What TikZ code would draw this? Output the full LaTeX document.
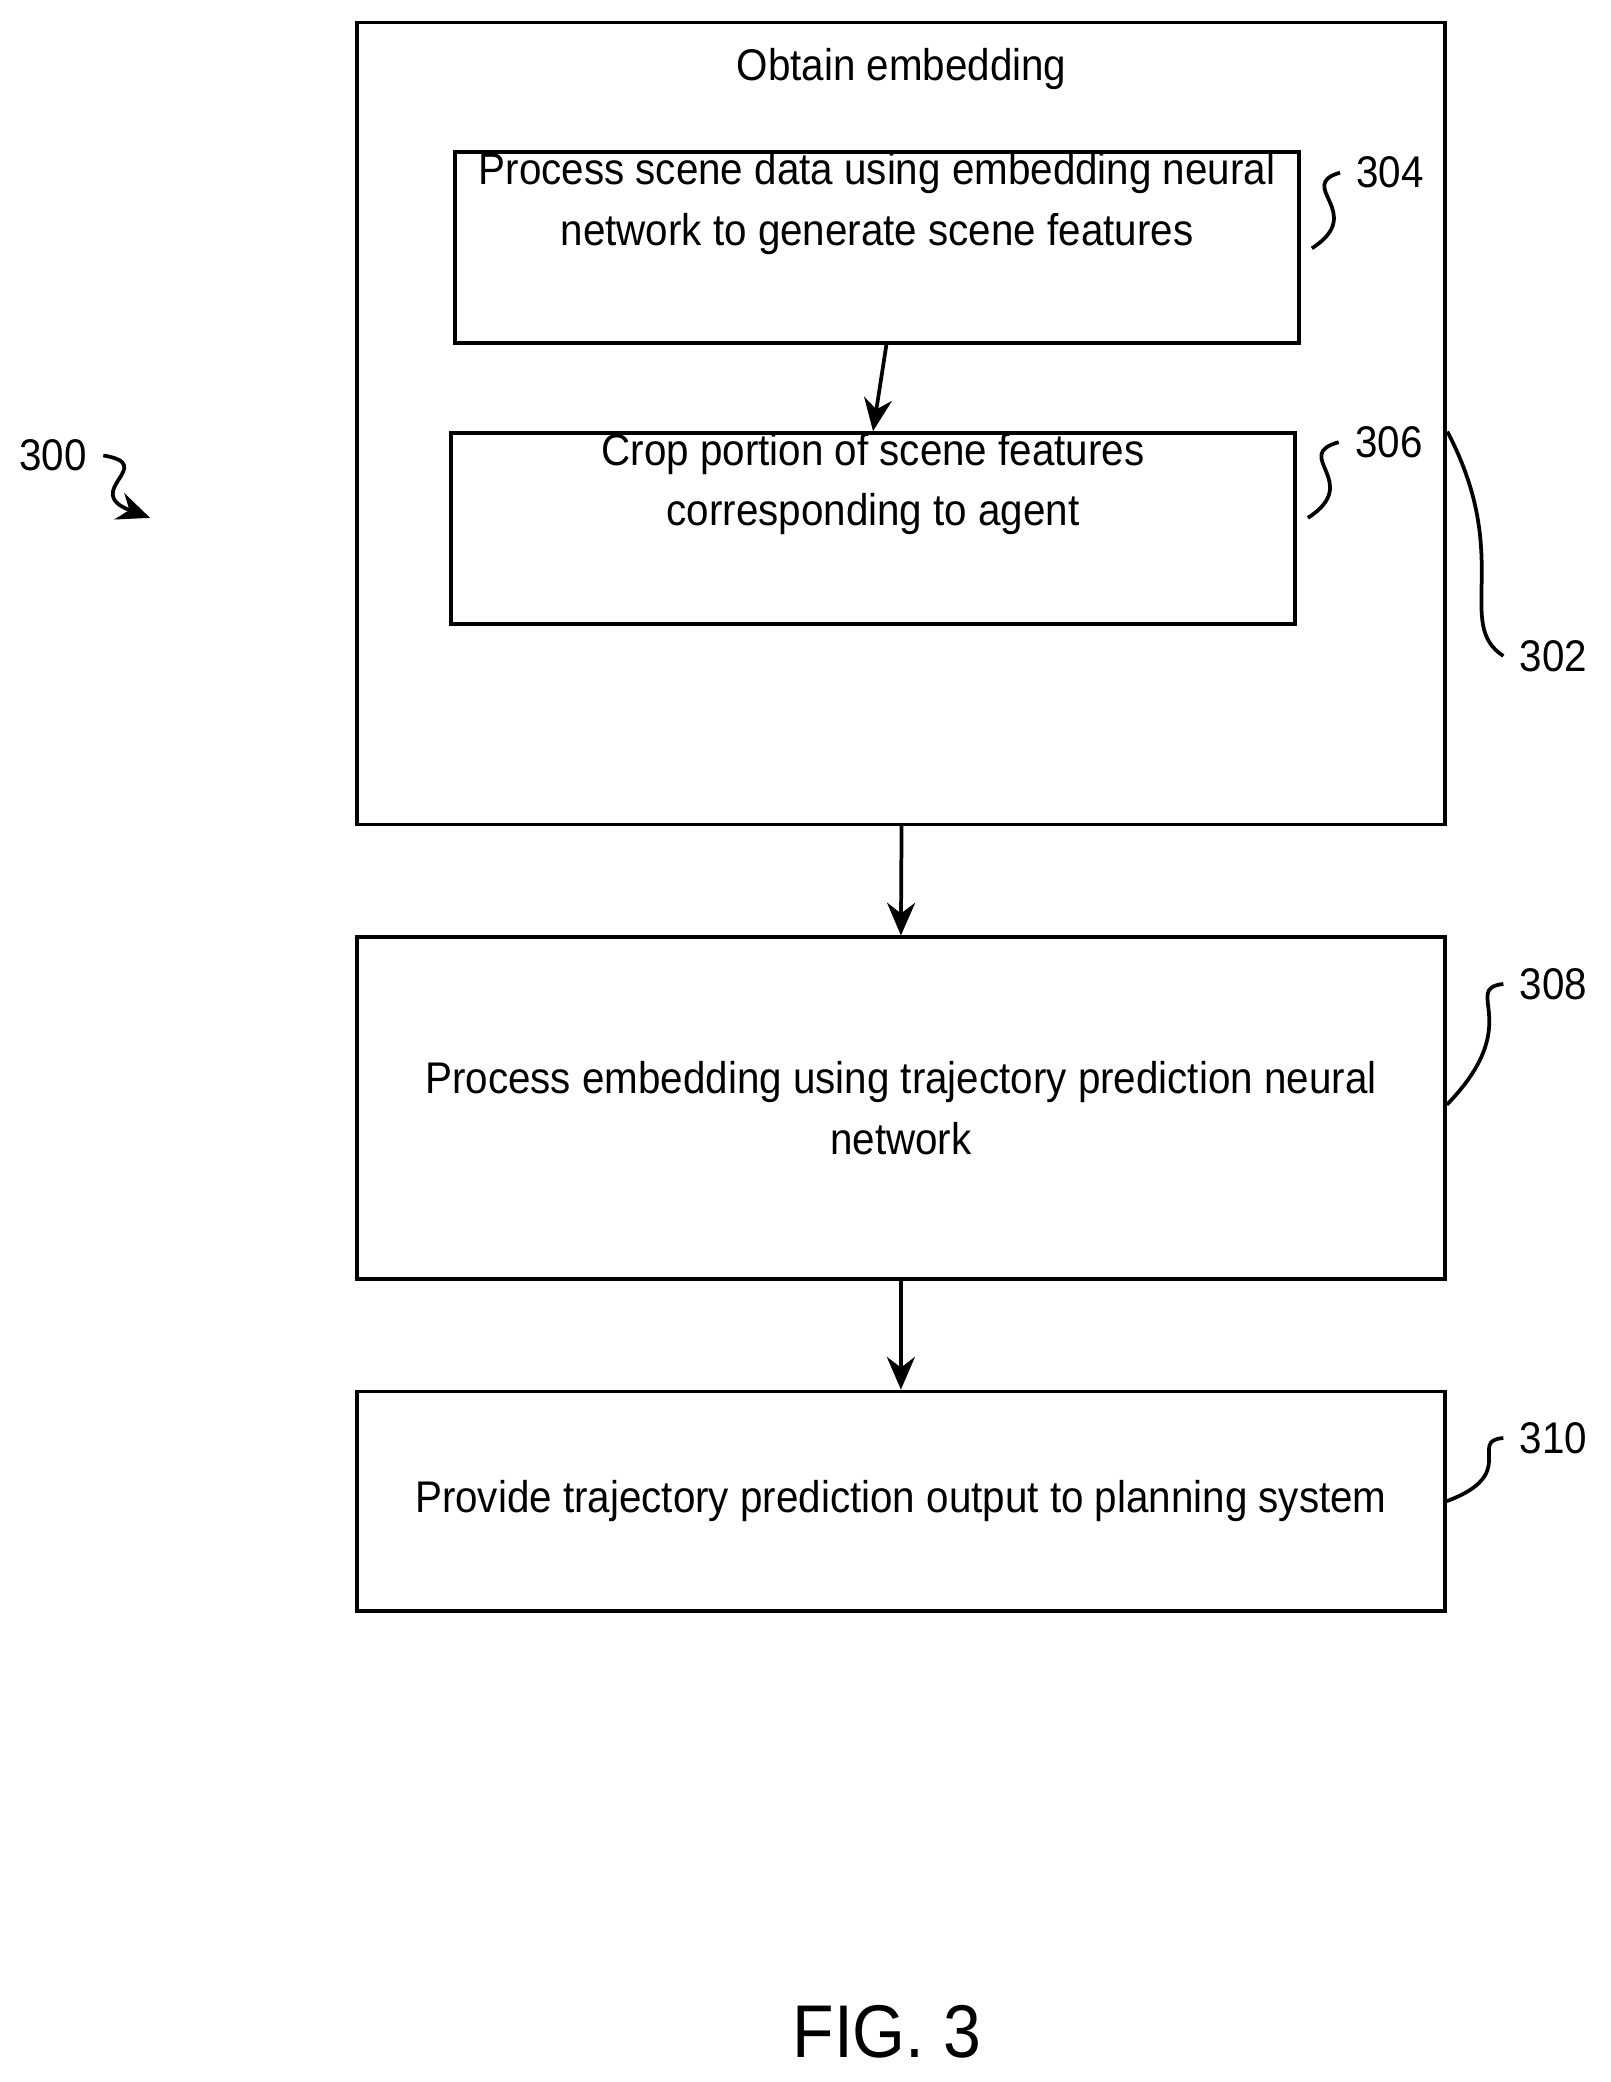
\documentclass[tikz,border=0pt]{standalone}
\usepackage{fontspec}
\setmainfont[FakeStretch=0.91]{Liberation Sans}
\usetikzlibrary{arrows.meta}
\tikzset{
  stepbox/.style={draw, thick, align=center, inner sep=0pt},
  ref/.style={font=\fontsize{9.5}{11}\selectfont},
  flow/.style={thick, -{Stealth[length=7pt,width=6pt]}},
  squig/.style={thick}
}
\begin{document}
\begin{tikzpicture}[x=0.01cm, y=-0.01cm, font=\fontsize{9.5}{13}\selectfont]
    \useasboundingbox (0,0) rectangle (1213,1568);

    % Outer box and steps
    \draw[thick] (269,17) rectangle (1088,621);
    \node (outer) at (679,52) {Obtain embedding};
    \node[stepbox, minimum width=6.35cm, minimum height=1.43cm] (s304) at (660.5,186.5) {Process scene data using embedding neural\\network to generate scene features\\[8pt]};
    \node[stepbox, minimum width=6.35cm, minimum height=1.42cm] (s306) at (657.5,398) {Crop portion of scene features\\corresponding to agent\\[8pt]};
    \node[stepbox, minimum width=8.19cm, minimum height=2.57cm] (s308) at (678.5,834.5) {Process embedding using trajectory prediction neural\\network};
    \node[stepbox, minimum width=8.19cm, minimum height=1.65cm] (s310) at (678.5,1130.5) {Provide trajectory prediction output to planning system};
    \coordinate (top) at (679,621);

    % Arrows between steps
    \draw[flow] ([xshift=2pt]s304.south) -- (s306.north);
    \draw[flow] (top) -- (s308.north);
    \draw[flow] (s308.south) -- (s310.north);

    % Reference numerals
    \node[ref] (r300) at (40,343) {300};
    \node[ref] (r302) at (1170,494) {302};
    \node[ref] (r304) at (1047,130) {304};
    \node[ref] (r306) at (1046,333) {306};
    \node[ref] (r308) at (1170,741) {308};
    \node[ref] (r310) at (1170,1083) {310};
    \coordinate (c302) at (1090,325);

    \draw[squig] (988,187) .. controls (1030,160) and (975,140) .. (r304.west);
    \draw[squig] (985,390) .. controls (1027,363) and (972,343) .. (r306.west);
    \draw[squig] (c302) .. controls (1140,420) and (1095,470) .. (r302.west);
    \draw[squig] (s308.east |- 0,832) .. controls (1150,770) and (1100,745) .. (r308.west);
    \draw[squig] (s310.east) .. controls (1145,1110) and (1105,1085) .. (r310.west);
    \draw[squig, -{Stealth[length=7pt,width=6pt]}] (r300.east) .. controls (120,350) and (60,370) .. (113,390);

    \node[font=\fontsize{16}{18}\selectfont] (fig) at (668,1530) {FIG. 3};
\end{tikzpicture}
\end{document}
